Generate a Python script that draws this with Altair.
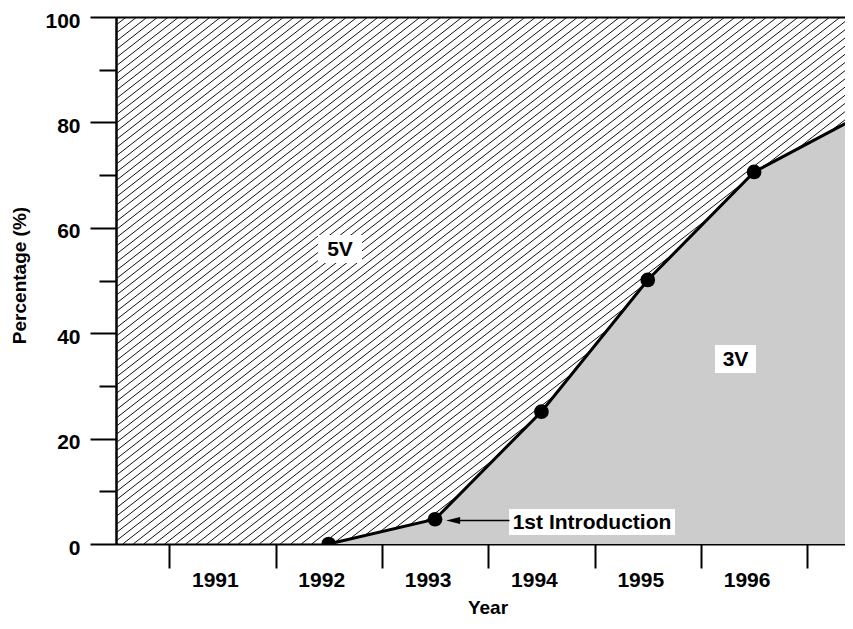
import altair as alt
import numpy as np
import pandas as pd

# ---- data ----
years = [1992, 1993, 1994, 1995, 1996, 1997]
share_3v = [0.0, 4.7, 25.1, 50.1, 70.6, 81.3]

tick_years = [1990.5, 1991.5, 1992.5, 1993.5, 1994.5, 1995.5, 1996.5]
y_major = [0, 20, 40, 60, 80, 100]
y_minor = [10, 30, 50, 70, 90]

label_texts = ["5V", "3V", "1st Introduction"]
label_x = [1992.106, 1995.825, 1994.476]
label_y = [55.98, 35.10, 4.17]

arrow_x = [1993.17]
arrow_x2 = [1993.70]
arrow_y = [4.46]

# ---- styling ----
FONT = "Liberation Sans"
PX_PER_YEAR = 106.35
PLOT_W, PLOT_H = 729, 527
X_DOMAIN = [1990, 1990 + PLOT_W / PX_PER_YEAR]
Y_DOMAIN = [0, 100]
box_px = {"5V": (44, 28), "3V": (41, 28), "1st Introduction": (166, 26)}

hatch_slope = 0.78
hatch_gap_px = 10.5
run = (PLOT_H / hatch_slope) / PX_PER_YEAR
starts = np.arange(X_DOMAIN[0] - run - 0.1, 1997.2, hatch_gap_px / PX_PER_YEAR)
hatch_df = pd.DataFrame({"x": starts, "x2": starts + run, "y": 0.0, "y2": 100.0})

df = pd.DataFrame({"year": years, "share": share_3v})

ann = pd.DataFrame({"label": label_texts, "x": label_x, "y": label_y})
ann["path"] = [
    "M-1,-{a}H1V{a}H-1Z".format(a=round(box_px[t][1] / box_px[t][0], 4)) for t in label_texts
]
ann["sz"] = [box_px[t][0] ** 2 for t in label_texts]

arrow_df = pd.DataFrame({"x": arrow_x, "x2": arrow_x2, "y": arrow_y})

xs = alt.Scale(domain=X_DOMAIN, nice=False, zero=False)
ys = alt.Scale(domain=Y_DOMAIN, nice=False, zero=False)

x_axis_main = alt.Axis(
    orient="bottom", values=tick_years, grid=False,
    tickSize=24, tickWidth=2, tickColor="black",
    domainWidth=2, domainColor="black",
    labelExpr="datum.value > 1996 ? '' : format(datum.value + 0.5, 'd')",
    labelOffset=45.7, labelPadding=1.5, labelFontSize=21, labelFontWeight="bold",
    labelFont=FONT, labelColor="black", labelBaseline="top", labelAlign="center",
    labelFlush=False, labelOverlap=False, labelBound=False,
    title="Year", titleFont=FONT, titleFontSize=19, titleFontWeight="bold",
    titleColor="black", titleX=371.5, titleY=69, titleBaseline="alphabetic",
    titleAlign="center",
)
x_axis_top = alt.Axis(
    orient="top", ticks=False, labels=False, grid=False, title=None,
    domainWidth=2, domainColor="black",
)
y_axis_main = alt.Axis(
    orient="left", values=y_major, grid=False,
    tickSize=26, tickWidth=2, tickColor="black",
    domainWidth=2, domainColor="black",
    labelPadding=10, labelFontSize=21, labelFontWeight="bold", labelFont=FONT,
    labelColor="black", labelFlush=False, labelOverlap=False, labelBaseline="middle",
    labelOffset=4,
    title="Percentage (%)", titleFont=FONT, titleFontSize=19, titleFontWeight="bold",
    titleColor="black", titleX=-91, titleY=258, titleBaseline="alphabetic",
    titleAlign="center", titleAngle=270,
)
y_axis_minor = alt.Axis(
    orient="left", values=y_minor, grid=False, labels=False, title=None,
    tickSize=17, tickWidth=2, tickColor="black",
    domainWidth=2, domainColor="black",
)

hatch = alt.Chart(hatch_df).mark_rule(clip=True, color="#111111", strokeWidth=1).encode(
    x=alt.X("x:Q", scale=xs, axis=x_axis_main),
    x2="x2:Q",
    y=alt.Y("y:Q", scale=ys, axis=y_axis_main),
    y2="y2:Q",
)

area = alt.Chart(df).mark_area(clip=True, color="#cccccc", opacity=1).encode(
    x=alt.X("year:Q", scale=xs, axis=x_axis_top),
    y=alt.Y("share:Q", scale=ys, axis=y_axis_minor),
)

line = alt.Chart(df).mark_line(clip=True, color="black", strokeWidth=3).encode(
    x=alt.X("year:Q", scale=xs, axis=None),
    y=alt.Y("share:Q", scale=ys, axis=None),
)

points = alt.Chart(df).transform_filter("datum.year <= 1996").mark_circle(
    clip=True, color="black", opacity=1, size=216
).encode(
    x=alt.X("year:Q", scale=xs, axis=None),
    y=alt.Y("share:Q", scale=ys, axis=None),
)

boxes = alt.Chart(ann).mark_point(filled=True, color="white", opacity=1, strokeWidth=0).encode(
    x=alt.X("x:Q", scale=xs, axis=None),
    y=alt.Y("y:Q", scale=ys, axis=None),
    shape=alt.Shape("path:N", scale=None),
    size=alt.Size("sz:Q", scale=None),
)

texts = alt.Chart(ann).mark_text(
    font=FONT, fontSize=21, fontWeight="bold", color="black",
    align="center", baseline="middle", dy=1,
).encode(
    x=alt.X("x:Q", scale=xs, axis=None),
    y=alt.Y("y:Q", scale=ys, axis=None),
    text="label:N",
)

arrow_line = alt.Chart(arrow_df).mark_rule(color="black", strokeWidth=1.5).encode(
    x=alt.X("x:Q", scale=xs, axis=None),
    x2="x2:Q",
    y=alt.Y("y:Q", scale=ys, axis=None),
)

arrow_head = alt.Chart(arrow_df).mark_point(
    filled=True, color="black", opacity=1, strokeWidth=0,
    shape="M-1,0L1,-0.5L1,0.5Z", size=196,
).encode(
    x=alt.X("x:Q", scale=xs, axis=None),
    y=alt.Y("y:Q", scale=ys, axis=None),
)

chart = (
    alt.layer(hatch, area, line, points, boxes, texts, arrow_line, arrow_head)
    .resolve_axis(x="independent", y="independent")
    .properties(
        width=PLOT_W, height=PLOT_H,
        autosize=alt.AutoSizeParams(type="none"),
        padding={"left": 108, "top": 9, "right": 0, "bottom": 73},
        background="white",
    )
    .configure_view(stroke=None)
)

chart.save("out.html", embed_options={"renderer": "svg", "actions": False})
